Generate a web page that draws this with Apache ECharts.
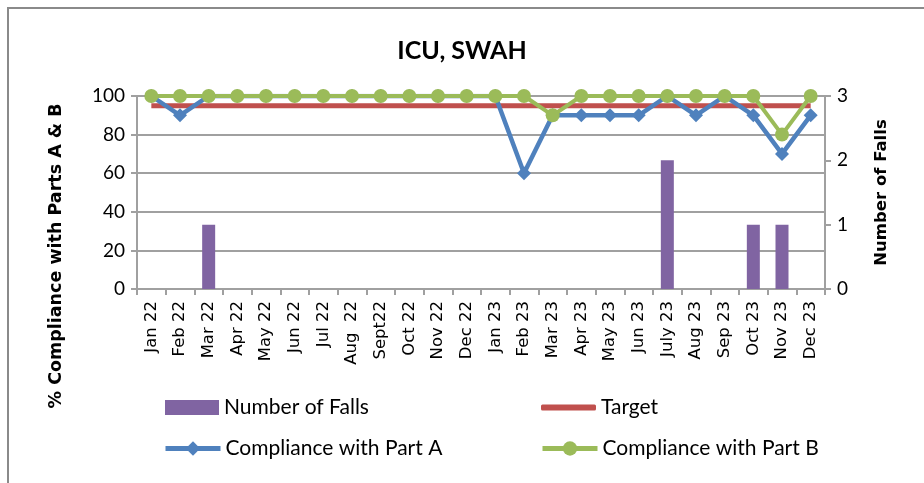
<!DOCTYPE html>
<html>
<head>
<meta charset="utf-8">
<script src="https://cdn.jsdelivr.net/npm/echarts@6/dist/echarts.min.js"></script>
<style>
  html, body { margin: 0; padding: 0; background: #fff; }
  #chart-panel { width: 924px; height: 483px; }
</style>
</head>
<body>
<div id="chart-panel"></div>
<script>
var months = ['Jan 22', 'Feb 22', 'Mar 22', 'Apr 22', 'May 22', 'Jun 22', 'Jul 22', 'Aug  22', 'Sept22', 'Oct 22', 'Nov 22', 'Dec 22',
  'Jan 23', 'Feb 23', 'Mar 23', 'Apr 23', 'May 23', 'Jun 23', 'July 23', 'Aug 23', 'Sep 23', 'Oct 23', 'Nov 23', 'Dec 23'];
var falls = [0, 0, 1, 0, 0, 0, 0, 0, 0, 0, 0, 0, 0, 0, 0, 0, 0, 0, 2, 0, 0, 1, 1, 0];
var target = [95, 95, 95, 95, 95, 95, 95, 95, 95, 95, 95, 95, 95, 95, 95, 95, 95, 95, 95, 95, 95, 95, 95, 95];
var partA = [100, 90, 100, 100, 100, 100, 100, 100, 100, 100, 100, 100, 100, 60, 90, 90, 90, 90, 100, 90, 100, 90, 70, 90];
var partB = [100, 100, 100, 100, 100, 100, 100, 100, 100, 100, 100, 100, 100, 100, 90, 100, 100, 100, 100, 100, 100, 100, 80, 100];

var chart = document.getElementById('chart-panel');
var myChart = echarts.init(chart);

var legendText = { fontFamily: 'Lato', fontSize: 21, color: '#000' };

var option = {
  animation: false,
  backgroundColor: '#fff',
  title: {
    text: 'ICU, SWAH',
    left: 'center',
    top: 33,
    textStyle: { fontFamily: 'Lato', fontWeight: 'bold', fontSize: 25, color: '#000' }
  },
  grid: { left: 137, right: 99, top: 96, bottom: 194 },
  legend: [
    { data: [{ name: 'Number of Falls', icon: 'rect' }], left: 165, top: 397, padding: 0, itemGap: 0, itemWidth: 54, itemHeight: 15, textStyle: legendText },
    { data: [{ name: 'Target', icon: 'roundRect' }], left: 541, top: 397, padding: 0, itemWidth: 55, itemHeight: 6, textStyle: legendText },
    { data: ['Compliance with Part A'], left: 163, top: 438, padding: 0, itemWidth: 55, itemHeight: 18, textStyle: legendText, lineStyle: { width: 5 } },
    { data: ['Compliance with Part B'], left: 540, top: 438, padding: 0, itemWidth: 55, itemHeight: 18, textStyle: legendText, lineStyle: { width: 5 } }
  ],
  graphic: [
    {
      type: 'rect',
      shape: { x: 8, y: 8, width: 1000, height: 600 },
      style: { fill: 'none', stroke: '#8a8a8a', lineWidth: 2 },
      silent: true
    },
    {
      type: 'text',
      x: 56, y: 256, rotation: Math.PI / 2,
      style: {
        text: '% Compliance with Parts A & B',
        font: 'bold 17.5px "DejaVu Sans"',
        fill: '#000',
        align: 'center',
        verticalAlign: 'middle'
      }
    }
  ],
  xAxis: {
    type: 'category',
    data: months,
    boundaryGap: true,
    axisLine: { lineStyle: { color: '#a0a0a0', width: 2 } },
    axisTick: { show: true, length: 6, interval: 0, lineStyle: { color: '#a0a0a0', width: 2 } },
    axisLabel: { interval: 0, rotate: 90, fontFamily: 'DejaVu Sans', fontSize: 16.5, color: '#000', margin: 12 }
  },
  yAxis: [
    {
      type: 'value',
      min: 0, max: 100, interval: 20,
      axisLine: { show: true, lineStyle: { color: '#a0a0a0', width: 2 } },
      axisTick: { show: true, length: 6, lineStyle: { color: '#a0a0a0', width: 2 } },
      axisLabel: { fontFamily: 'Lato', fontSize: 19, color: '#000', margin: 12 },
      splitLine: { lineStyle: { color: '#a0a0a0', width: 2 } }
    },
    {
      type: 'value',
      min: 0, max: 3, interval: 1,
      name: 'Number of Falls',
      nameLocation: 'middle',
      nameGap: 48,
      nameRotate: 90,
      nameTextStyle: { fontFamily: 'DejaVu Sans', fontWeight: 'bold', fontSize: 16.5, color: '#000' },
      axisLine: { show: true, lineStyle: { color: '#a0a0a0', width: 2 } },
      axisTick: { show: true, length: 6, lineStyle: { color: '#a0a0a0', width: 2 } },
      axisLabel: { fontFamily: 'Lato', fontSize: 19, color: '#000', margin: 12 },
      splitLine: { show: false }
    }
  ],
  series: [
    {
      name: 'Number of Falls',
      type: 'bar',
      yAxisIndex: 1,
      data: falls,
      barWidth: 13,
      itemStyle: { color: '#8064a2' }
    },
    {
      name: 'Target',
      type: 'line',
      data: target,
      symbol: 'none',
      lineStyle: { color: '#c0504d', width: 5 },
      itemStyle: { color: '#c0504d' }
    },
    {
      name: 'Compliance with Part A',
      type: 'line',
      data: partA,
      symbol: 'diamond',
      symbolSize: 14,
      lineStyle: { color: '#4f81bd', width: 4.5 },
      itemStyle: { color: '#4f81bd' }
    },
    {
      name: 'Compliance with Part B',
      type: 'line',
      data: partB,
      symbol: 'circle',
      symbolSize: 14,
      lineStyle: { color: '#9bbb59', width: 4 },
      itemStyle: { color: '#9bbb59' }
    }
  ]
};

myChart.setOption(option);
</script>
</body>
</html>
